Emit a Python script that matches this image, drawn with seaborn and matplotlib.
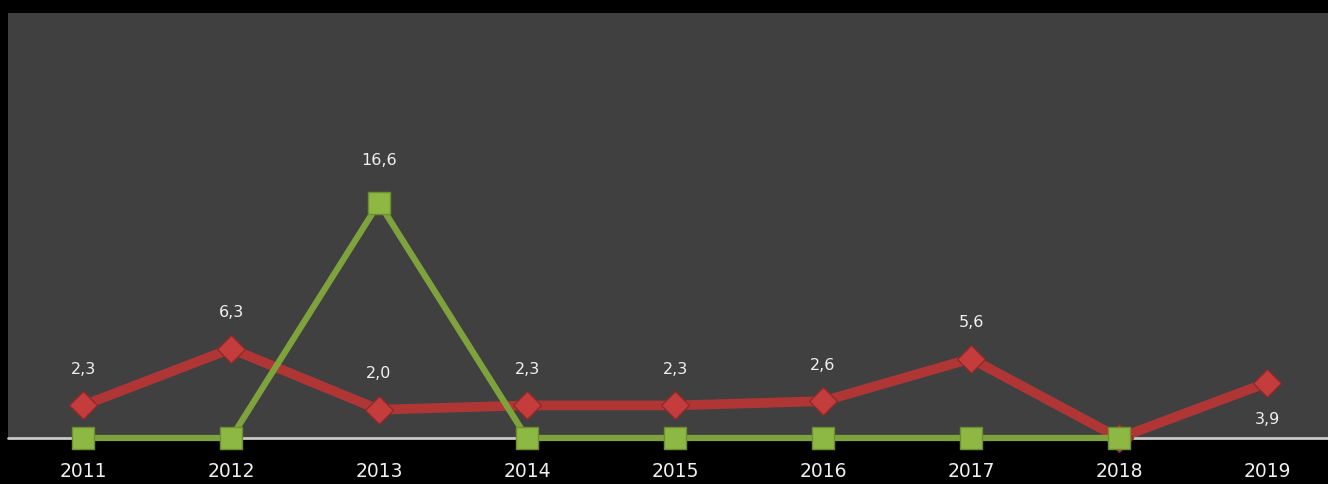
import numpy as np
import pandas as pd
import seaborn as sns
import matplotlib.pyplot as plt

years = ['2011', '2012', '2013', '2014', '2015', '2016', '2017', '2018', '2019']
red_vals = [2.3, 6.3, 2.0, 2.3, 2.3, 2.6, 5.6, 0.0, 3.9]
green_vals = [0.0, 0.0, 16.6, 0.0, 0.0, 0.0, 0.0, 0.0, np.nan]
red_labels = ['2,3', '6,3', '2,0', '2,3', '2,3', '2,6', '5,6', '', '3,9']
green_labels = ['', '', '16,6', '', '', '', '', '', '']

df = pd.DataFrame({'idx': range(len(years)), 'red': red_vals, 'green': green_vals})

sns.set_style('dark')
plt.rcParams['font.family'] = ['DejaVu Sans']

fig = plt.figure(figsize=(13.28, 4.84), dpi=100, facecolor='black')
ax = fig.add_axes([8 / 1328, 46 / 484, 1320 / 1328, 425 / 484])
ax.set_facecolor('#404040')

ax.axhline(0, color='#c8c8c8', linewidth=2, zorder=2, clip_on=False)

# red series (diamonds)
sns.lineplot(data=df, x='idx', y='red', ax=ax, color='#b03636', linewidth=7,
             marker='D', markersize=14, markerfacecolor='#c43c3c',
             markeredgecolor='#8c2a2a', markeredgewidth=1, zorder=3, clip_on=False)
# green series (squares)
sns.lineplot(data=df.dropna(), x='idx', y='green', ax=ax, color='#7fa33c', linewidth=4.5,
             marker='s', markersize=16, markerfacecolor='#8cb843',
             markeredgecolor='#6e8f30', markeredgewidth=1, zorder=4, clip_on=False)

for i, (v, lab) in enumerate(zip(red_vals, red_labels)):
    if not lab:
        continue
    dy = -37 if years[i] == '2019' else 36
    ax.annotate(lab, (i, v), xytext=(0, dy), textcoords='offset pixels',
                ha='center', va='center', color='#f0f0f0', fontsize=11.5)
for i, (v, lab) in enumerate(zip(green_vals, green_labels)):
    if not lab:
        continue
    ax.annotate(lab, (i, v), xytext=(0, 42), textcoords='offset pixels',
                ha='center', va='center', color='#f0f0f0', fontsize=11.5)

ax.set_xlim((8 - 83) / 148, (1328 - 83) / 148)
ax.set_ylim(0, 30)

ax.set_xticks(range(len(years)))
ax.set_xticklabels(years, color='#f0f0f0', fontsize=13.5)
ax.tick_params(axis='x', length=0, pad=17)
ax.set_yticks([])
ax.set_xlabel('')
ax.set_ylabel('')
ax.grid(False)
for s in ax.spines.values():
    s.set_visible(False)

fig.savefig('out.png', dpi=100, facecolor='black')
